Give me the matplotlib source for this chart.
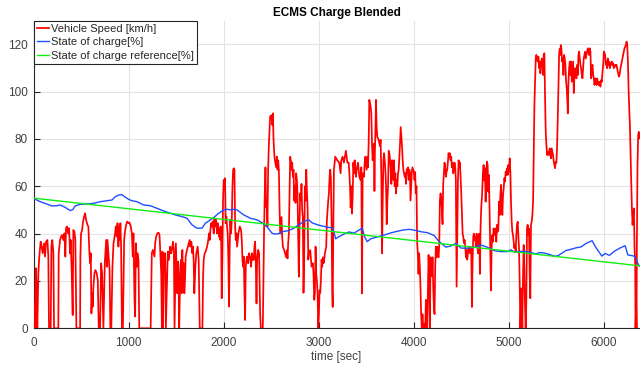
import matplotlib
matplotlib.use("Agg")
import matplotlib.pyplot as plt

plt.rcParams['font.family'] = ['Liberation Sans', 'DejaVu Sans']

# ---------------- data ----------------
speed_samples = [
    (0,0),(5,10.6),(15,0),(23,25.4),(33,17.6),(40,0),(51,23.2),(61,30.3),(75,36.6),(86,34.5),(97,31.7),
    (111,35.9),(121,30.3),(132,36.6),(146,37.3),(156,30.3),(163,0),(181,0),(188,34.5),(198,37.3),(209,31.7),
    (216,0),(261,0),(265,31.7),(279,37.3),(290,38.7),(300,39.4),(314,37.3),(325,40.1),(335,30.3),(342,42.3),
    (353,43),(363,40.1),(374,42.3),(384,31.7),(391,37.3),(402,23.2),(412,5.6),(419,41.5),(430,40.8),(440,37.3),
    (451,0),(490,0),(493,30.3),(500,40.1),(511,41.5),(521,45),(532,47.2),(542,48.6),(553,45.8),(567,43.7),
    (577,43),(588,31.7),(595,27.5),(602,31.7),(609,6.3),(616,14.8),(623,9.2),(630,17.6),(641,23.2),(651,24.6),
    (665,23.2),(676,20.4),(686,0),(700,0),(711,27.5),(721,23.2),(735,0),(750,28),(764,37.3),(771,26),(778,37.3),
    (791,30),(800,24.6),(808,0),(818,0),(830,26),(841,35.9),(858,40.1),(865,43),(876,38.7),(883,44.4),(893,34.5),
    (900,43),(907,37.3),(914,44.4),(921,34.5),(930,0),(940,0),(953,37.3),(964,41.5),(974,43.7),(985,45.1),
    (999,44.4),(1009,44.7),(1023,43),(1034,40.1),(1044,30.3),(1051,40.1),(1062,12),(1069,5),(1076,35.9),
    (1086,26),(1093,31.7),(1104,28.9),(1112,0),(1232,0),(1244,31.7),(1255,33.1),(1272,30.3),(1279,35.9),
    (1290,38.7),(1301,40.1),(1315,40.4),(1325,39.4),(1332,33.1),(1343,23.2),(1350,0),(1355,32.4),(1362,0),
    (1370,31.7),(1385,31.7),(1392,0),(1406,23.2),(1413,32.4),(1420,28.9),(1430,31.7),(1437,34.5),(1448,31.7),
    (1455,33.1),(1466,36.6),(1476,33.1),(1483,0),(1497,35.9),(1504,26),(1511,14.8),(1518,28.2),(1525,21.8),
    (1532,0),(1544,26),(1551,28.9),(1558,14.8),(1565,33.1),(1572,17.6),(1579,27.5),(1586,14.8),(1593,20.4),
    (1600,30.3),(1614,33.1),(1628,35.2),(1642,37.3),(1649,34.5),(1660,36.6),(1670,31.7),(1677,34.5),(1684,28.9),
    (1691,14.8),(1702,26),(1712,31.7),(1726,34.5),(1737,28.9),(1748,0),(1776,0),(1783,21.8),(1790,28.9),
    (1800,31.7),(1811,32.4),(1825,34.5),(1835,36.6),(1846,40.1),(1853,37.3),(1860,41.5),(1867,44.4),(1877,43),
    (1884,45.1),(1895,40.1),(1902,46.5),(1912,43),(1920,45.8),(1930,40.1),(1937,44.4),(1944,43),(1951,38.7),
    (1958,42.3),(1965,37.3),(1972,43),(1979,12.7),(1986,29),(1993,54.2),(2000,62.7),(2007,59.9),(2014,63.4),
    (2021,44.4),(2028,47.2),(2035,43),(2042,40.1),(2049,28.9),(2056,9.2),(2063,34.5),(2070,45.8),(2077,40.1),
    (2085,45.8),(2092,59.9),(2099,66.9),(2106,67.6),(2113,66.9),(2120,42.9),(2127,37.3),(2134,40.1),(2141,34.5),
    (2148,37.3),(2155,40.1),(2162,41.5),(2169,43),(2176,42.3),(2183,41.5),(2190,37.3),(2197,28.9),(2204,26),
    (2211,30.3),(2218,14.8),(2225,3.5),(2232,26),(2239,28.9),(2246,30.3),(2257,27.5),(2264,31.7),(2274,30.3),
    (2281,28.9),(2288,26),(2295,31.7),(2302,28.9),(2309,30.3),(2316,28.9),(2323,34.5),(2330,36.6),(2337,28.9),
    (2345,10.5),(2351,28.9),(2362,33.1),(2372,31.7),(2383,6),(2390,0),(2411,0),(2418,23),(2425,43),(2432,57),
    (2439,68),(2446,51),(2453,54),(2460,43),(2467,67),(2474,76.7),(2488,89.4),(2502,90),(2510,86),(2517,90.8),
    (2524,79.6),(2531,74),(2538,71),(2552,68),(2559,72.5),(2566,67),(2573,71),(2580,67),(2587,51),(2594,40),
    (2608,47),(2615,38.7),(2622,34.5),(2636,33),(2650,31),(2657,30),(2664,33),(2671,29.5),(2678,36),(2685,40),
    (2692,57),(2699,72.5),(2706,71),(2713,67),(2720,70),(2727,64),(2734,67),(2741,54),(2748,60),(2755,53),
    (2762,65.5),(2769,62.7),(2776,57),(2783,38.7),(2790,21.8),(2797,43),(2804,57),(2811,54),(2818,61),(2825,50),
    (2832,47),(2839,15),(2846,29),(2853,60),(2861,54),(2868,67),(2875,58),(2882,51),(2889,29),(2896,31.7),
    (2910,33),(2924,26),(2938,27.5),(2945,22),(2952,12),(2959,15),(2966,34.5),(2973,23),(2980,20),(2987,15),
    (2994,0),(3001,6),(3008,16),(3015,15),(3022,20),(3029,29),(3036,26),(3043,30),(3050,27.5),(3057,29),
    (3064,31.7),(3071,33),(3078,34.5),(3085,45.8),(3092,50),(3099,54),(3106,57),(3113,64),(3120,67),(3127,63),
    (3134,46),(3141,16),(3146,9),(3152,40),(3159,67),(3173,72.5),(3194,71),(3215,70),(3229,65.5),(3236,71),
    (3250,72.5),(3264,70),(3285,75),(3300,70),(3314,70),(3321,65.5),(3328,60),(3335,51),(3342,60),(3349,48.5),
    (3356,56),(3363,70),(3370,65.5),(3377,71),(3391,64),(3398,67),(3412,70),(3426,64),(3440,62.7),(3447,68),
    (3454,14.8),(3461,65.5),(3475,64),(3482,70),(3489,72.5),(3503,67),(3510,72.5),(3517,68),(3524,78),
    (3531,96.5),(3545,93.6),(3552,90.8),(3559,78),(3566,71),(3573,75),(3580,78),(3585,58),(3590,75),(3594,81),
    (3601,96.5),(3608,85),(3615,81),(3629,79.6),(3643,77),(3650,79.6),(3658,62.7),(3665,31.7),(3672,54),
    (3679,71),(3686,74),(3693,71),(3700,67),(3707,60),(3714,44),(3721,54),(3728,60),(3735,75),(3742,74),
    (3749,71),(3756,67),(3763,61),(3770,71),(3777,65.5),(3784,62.7),(3791,71),(3798,60),(3805,65.5),(3812,57),
    (3819,62.7),(3826,60),(3833,65.5),(3840,67),(3847,72.5),(3854,78),(3861,85),(3868,81),(3875,77),(3882,71),
    (3889,67),(3903,64),(3910,65.5),(3917,61),(3924,67),(3938,68),(3945,62.7),(3952,67),(3959,65.5),(3964,54),
    (3971,60),(3978,66),(3985,68),(3992,67),(3999,66),(4006,62.7),(4013,66),(4020,57),(4027,60),(4034,36),
    (4041,31.7),(4048,23),(4055,31.7),(4062,26),(4069,17.6),(4076,6),(4083,0),(4090,6),(4097,0.7),(4105,0),
    (4112,2),(4119,0),(4126,12),(4133,0),(4140,0),(4147,15),(4154,31),(4161,22),(4168,0),(4175,30),(4182,29),
    (4189,22),(4196,30),(4203,17.6),(4210,9),(4217,6),(4224,26),(4231,34.5),(4238,30),(4245,34.5),(4252,31.7),
    (4259,30),(4266,34.5),(4273,54),(4280,57),(4287,55),(4294,50),(4301,44),(4308,61),(4315,65.5),(4322,70),
    (4329,68),(4336,64),(4343,66),(4350,67),(4357,70),(4364,74),(4371,72.5),(4378,74),(4385,71),(4392,72.5),
    (4399,68),(4406,70),(4413,65.5),(4420,67),(4427,70),(4434,68),(4441,62.7),(4449,17.6),(4456,38.7),
    (4463,62.7),(4470,71),(4477,68),(4484,70),(4491,64),(4498,57),(4505,48.5),(4512,40),(4519,38.7),(4526,36),
    (4533,37.3),(4540,34.5),(4547,30),(4554,33),(4561,29),(4568,31.7),(4575,34.5),(4582,33),(4589,31.7),
    (4596,34.5),(4603,33),(4610,9),(4617,29),(4624,38.7),(4631,40),(4638,37.3),(4645,38.7),(4652,34.5),
    (4659,40),(4666,37.3),(4673,31.7),(4680,37.3),(4687,40),(4694,23),(4701,43),(4708,51),(4716,56),(4726,66),
    (4733,69),(4740,62.5),(4747,67.6),(4754,53.5),(4761,66),(4768,70.4),(4775,69),(4782,57.7),(4789,64.8),
    (4796,47.9),(4803,30.9),(4810,16),(4817,33.8),(4824,39.4),(4831,36.6),(4838,42.2),(4845,39.4),(4852,40.8),
    (4859,42.2),(4866,36.6),(4873,43.7),(4880,40.8),(4888,42.2),(4895,53.5),(4902,47.9),(4909,56.3),
    (4916,60.6),(4923,53.5),(4930,47.9),(4937,56.3),(4944,59.1),(4951,63.4),(4958,62),(4965,66.2),(4972,64.8),
    (4979,67.6),(4986,64.8),(4993,69),(5000,66.2),(5007,71.8),(5014,66.2),(5021,53.5),(5028,45),(5035,40.8),
    (5042,39.4),(5049,36.6),(5056,33.8),(5063,35.2),(5070,32.4),(5077,39.4),(5084,43.7),(5091,45),(5098,39.4),
    (5105,33.8),(5112,19.7),(5119,0),(5126,9.9),(5133,16.9),(5140,0),(5147,21.1),(5154,35.2),(5161,25.3),
    (5168,9.9),(5175,0),(5182,11.3),(5189,42.2),(5196,43.7),(5203,39.4),(5210,42.2),(5217,22.5),(5224,12.7),
    (5231,43.7),(5238,45),(5246,47.9),(5253,53.5),(5260,73.2),(5267,94.4),(5274,104.2),(5281,114),(5288,115.5),
    (5295,114),(5302,112.7),(5309,114.8),(5316,109.9),(5323,112.7),(5330,107.7),(5337,111.3),(5344,114),
    (5351,112.7),(5358,107),(5365,115.5),(5372,116.2),(5379,97.2),(5386,83),(5393,77.5),(5400,73.2),
    (5407,74.6),(5414,73.2),(5421,73.9),(5428,76),(5435,73.2),(5442,71.8),(5449,76),(5456,74.6),(5463,73.2),
    (5470,70.4),(5477,69),(5484,67.6),(5491,70.4),(5498,70),(5505,76),(5512,88),(5520,104),(5527,116),
    (5533,118),(5540,115.5),(5544,119.7),(5551,118.3),(5558,112.7),(5565,114),(5572,107),(5579,115.5),
    (5586,114),(5593,111.3),(5600,104.2),(5607,101.4),(5614,95.8),(5618,90.8),(5625,104.2),(5632,109.9),
    (5639,112.7),(5646,107),(5653,112.7),(5660,104.2),(5667,108.4),(5674,112.7),(5681,99.4),(5688,107),
    (5695,109.9),(5702,107),(5709,105.6),(5716,111.3),(5723,107),(5730,115.5),(5737,116.9),(5744,114),
    (5751,111.3),(5758,109.9),(5765,107),(5772,105.6),(5779,109.9),(5786,114),(5793,115.5),(5800,116.9),
    (5807,114),(5814,115.5),(5821,116.9),(5828,118.3),(5835,116.9),(5842,115.5),(5849,118.3),(5856,116.9),
    (5864,105.6),(5871,109.9),(5878,111.3),(5885,107),(5892,105.6),(5899,102.8),(5906,105.6),(5913,104.2),
    (5920,102.8),(5927,105.6),(5934,103.5),(5941,102.8),(5948,104.2),(5955,102.8),(5962,102.1),(5969,104.9),
    (5976,104.2),(5983,108.4),(5990,111.3),(5997,116.9),(6004,116.2),(6011,115.5),(6018,111.3),(6025,112.7),
    (6032,109.9),(6039,114),(6046,111.3),(6053,112.7),(6060,109.9),(6067,112),(6074,111.3),(6081,112.7),
    (6088,111.3),(6095,112),(6102,109.9),(6109,110.6),(6116,111.3),(6123,110.6),(6130,111.3),(6137,109.9),
    (6144,108.4),(6151,107),(6158,106.3),(6165,107.7),(6172,109.9),(6179,111.3),(6186,112.7),(6193,114),
    (6200,115.5),(6207,116.9),(6214,118.3),(6221,119),(6229,119.7),(6236,121.1),(6243,119.7),(6250,112.7),
    (6257,101.4),(6264,92.9),(6271,85.9),(6278,73.2),(6285,62),(6292,50.7),(6299,43.7),(6306,48),(6313,50.7),
    (6320,33.8),(6327,26.8),(6330,0),(6337,9.9),(6341,0),(6344,33.8),(6348,53.5),(6351,69),(6355,76),
    (6358,81.7),(6365,83),(6372,80.3),
]

soc_samples = [
    (0,54.9),(70,53.5),(140,52.5),(193,51.7),(246,51.8),(281,52.1),(333,51.1),(386,49.7),(414,50.2),
    (439,51.7),(491,52.4),(561,52.5),(632,52.8),(702,53.5),(772,53.9),(825,54.2),(860,55.6),(895,56.3),
    (930,56.5),(965,55.4),(1000,54.5),(1035,53.9),(1088,53.5),(1158,52.1),(1228,51.8),(1298,50.7),(1368,49.6),
    (1439,48.6),(1491,47.9),(1561,47.2),(1614,46.5),(1667,43.7),(1719,42.3),(1772,42.3),(1807,44.4),
    (1860,45.8),(1895,46.8),(1947,48.6),(2000,50),(2035,50.3),(2070,50),(2105,50.3),(2140,50),(2211,47.9),
    (2281,46.5),(2351,45.8),(2404,44.6),(2457,42.8),(2510,40.1),(2545,39.8),(2579,40),(2615,40.8),(2685,41.3),
    (2738,42.3),(2808,44.2),(2861,45.5),(2896,45.8),(2931,44.5),(2983,43.8),(3036,43.2),(3106,42.6),
    (3141,42.5),(3160,40.5),(3177,37.8),(3211,38.7),(3264,39.8),(3317,40.7),(3370,40.2),(3422,41.5),
    (3457,42.3),(3481,38.7),(3509,36.6),(3545,37.8),(3615,38.6),(3686,39.4),(3756,40.3),(3826,41),(3896,41.6),
    (3959,41.8),(4036,41.2),(4073,40.8),(4143,40.4),(4213,39.2),(4266,36.6),(4336,34.3),(4389,34.8),
    (4442,35.9),(4494,33.9),(4564,33.8),(4635,34.3),(4705,35.2),(4775,34.2),(4845,32.8),(4915,32.4),
    (4986,32.4),(5021,33.2),(5056,32.2),(5126,32.5),(5179,32.4),(5231,32),(5284,31.4),(5319,32),(5372,31.8),
    (5424,31.2),(5477,30.5),(5512,30.6),(5547,31.5),(5600,32.9),(5635,33.2),(5670,33.6),(5705,34),(5758,34.4),
    (5811,35.9),(5874,37),(5916,34),(5976,30.5),(6011,31.6),(6056,30.8),(6109,32.6),(6162,33.8),(6221,34.9),
    (6250,31),(6291,30.7),(6327,30.4),(6348,28),(6365,26.7),(6372,26.2),
]

soc_ref_time = [0, 6372]
soc_ref_pct = [55.0, 26.4]

x_ticks = [0, 1000, 2000, 3000, 4000, 5000, 6000]
y_ticks = [0, 20, 40, 60, 80, 100, 120]
series_labels = ["Vehicle Speed [km/h]", "State of charge[%]", "State of charge reference[%]"]
title_text = "ECMS Charge Blended"
xlabel_text = "time [sec]"

# ---------------- figure ----------------
W, H = 640, 365
fig = plt.figure(figsize=(W / 100, H / 100), dpi=100)
left, right, top, bottom = 33.5, 639.5, 20.6, 328.3
ax = fig.add_axes([left / W, 1 - bottom / H, (right - left) / W, (bottom - top) / H])

speed_t = [p[0] for p in speed_samples]
speed_v = [p[1] for p in speed_samples]
soc_t = [p[0] for p in soc_samples]
soc_v = [p[1] for p in soc_samples]

ax.plot(speed_t, speed_v, color='#ff0000', lw=1.25, label=series_labels[0], zorder=3)
ax.plot(soc_t, soc_v, color='#1f4fff', lw=1.0, label=series_labels[1], zorder=4)
ax.plot(soc_ref_time, soc_ref_pct, color='#11ee11', lw=1.0, label=series_labels[2], zorder=4)

ax.set_xlim(0, 6372)
ax.set_ylim(0, 130)
ax.set_xticks(x_ticks)
ax.set_yticks(y_ticks)

ax.grid(True, color='#e3e3e3', lw=0.8, zorder=0)
ax.set_axisbelow(True)
for s in ('top', 'right'):
    ax.spines[s].set_visible(False)
for s in ('left', 'bottom'):
    ax.spines[s].set_color('#262626')
    ax.spines[s].set_linewidth(0.8)

ax.tick_params(direction='in', length=4, width=0.8, color='#262626',
               labelsize=8.5, labelcolor='#404040')
ax.tick_params(axis='x', pad=6)
ax.tick_params(axis='y', pad=4)

ax.set_title(title_text, fontsize=8.5, fontweight='bold', color='#000000', pad=3.5)
ax.set_xlabel(xlabel_text, fontsize=8.5, color='#404040', labelpad=2)

leg = ax.legend(loc='upper left', bbox_to_anchor=(0, 1), borderaxespad=0,
                fontsize=8, frameon=True, fancybox=False, framealpha=1,
                edgecolor='#262626', handlelength=1.1, handletextpad=0.2,
                labelspacing=0.3, borderpad=0.3)
leg.get_frame().set_linewidth(0.8)
for t in leg.get_texts():
    t.set_color('#262626')

fig.savefig('out.png', dpi=100)
